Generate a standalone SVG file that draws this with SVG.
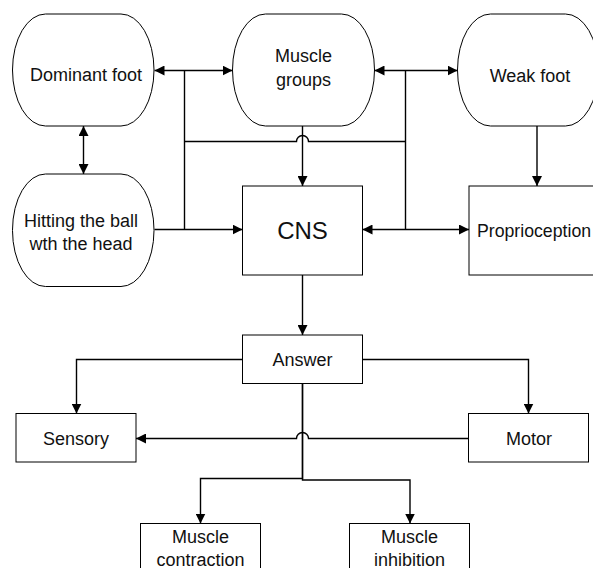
<svg xmlns="http://www.w3.org/2000/svg" width="593" height="568" viewBox="0 0 593 568">
  <style>
    .shape { fill: #ffffff; stroke: #000000; stroke-width: 1; }
    .conn { fill: none; stroke: #000000; stroke-width: 1.4; }
    .arr { marker-end: url(#ah); }
    .arr2 { marker-start: url(#ah); marker-end: url(#ah); }
    text { font-family: "Liberation Sans", Arial, sans-serif; font-size: 18px; fill: #111111; text-anchor: middle; }
    .big { font-size: 24px; }
  </style>
  <defs>
    <marker id="ah" viewBox="0 0 10 10" refX="10" refY="5" markerWidth="10" markerHeight="10" markerUnits="userSpaceOnUse" orient="auto-start-reverse">
      <path d="M0,0 L10,5 L0,10 z" fill="#000000"/>
    </marker>
  </defs>
  <rect width="593" height="568" fill="#ffffff"/>

  <g id="connectors">
    <path class="conn arr2" d="M154.5,70.5 H232.5"/>
    <path class="conn" d="M184.5,70.5 V229.5"/>
    <path class="conn" d="M184.5,141.5 H296.5 A6,6 0 0 1 308.5,141.5 H405.5"/>
    <path class="conn arr" d="M154.5,229.5 H242.5"/>
    <path class="conn arr" d="M302.5,126 V186"/>
    <path class="conn arr2" d="M374.5,70.5 H457.5"/>
    <path class="conn" d="M405.5,70.5 V229.5"/>
    <path class="conn arr2" d="M362.5,229.5 H469"/>
    <path class="conn arr" d="M537,126 V186"/>
    <path class="conn arr2" d="M83.5,126 V174"/>
    <path class="conn arr" d="M302.5,275 V335"/>
    <path class="conn arr" d="M242.5,359.5 H76.5 V413.5"/>
    <path class="conn arr" d="M362.5,359.5 H528.5 V413.5"/>
    <path class="conn arr" d="M468.5,438.5 H308.5 A6,6 0 0 0 296.5,438.5 H136"/>
    <path class="conn arr" d="M302.5,383.5 V478.5 H200.5 V523.5"/>
    <path class="conn arr" d="M302.5,383.5 V480 H410 V523.5"/>
  </g>

  <g id="dominant-foot">
    <rect class="shape" x="12.5" y="14" width="141.5" height="112" rx="33" ry="56"/>
    <text x="86" y="80.5">Dominant foot</text>
  </g>
  <g id="muscle-groups">
    <rect class="shape" x="232.5" y="14" width="142" height="112" rx="33" ry="56"/>
    <text x="303.5" y="62">Muscle</text>
    <text x="303.5" y="85.5">groups</text>
  </g>
  <g id="weak-foot">
    <rect class="shape" x="457.5" y="14" width="141" height="112" rx="33" ry="56"/>
    <text x="530" y="81.5">Weak foot</text>
  </g>
  <g id="hitting-ball">
    <rect class="shape" x="12.5" y="174" width="141.5" height="112.5" rx="33" ry="56"/>
    <text x="81" y="226.5">Hitting the ball</text>
    <text x="81" y="250">wth the head</text>
  </g>
  <g id="cns">
    <rect class="shape" x="242.5" y="186" width="120" height="89"/>
    <text class="big" x="302.5" y="239">CNS</text>
  </g>
  <g id="proprioception">
    <rect class="shape" x="469" y="186" width="136" height="89"/>
    <text x="477" y="236.5" style="text-anchor:start;font-size:17.7px">Proprioception</text>
  </g>
  <g id="answer">
    <rect class="shape" x="242.5" y="335" width="120" height="48.5"/>
    <text x="302.5" y="366">Answer</text>
  </g>
  <g id="sensory">
    <rect class="shape" x="16" y="413.5" width="120" height="48.5"/>
    <text x="76" y="444.5">Sensory</text>
  </g>
  <g id="motor">
    <rect class="shape" x="468.5" y="413.5" width="120" height="48.5"/>
    <text x="529" y="444.5">Motor</text>
  </g>
  <g id="muscle-contraction">
    <rect class="shape" x="140.5" y="523.5" width="120" height="60"/>
    <text x="200.5" y="543">Muscle</text>
    <text x="200.5" y="565.5">contraction</text>
  </g>
  <g id="muscle-inhibition">
    <rect class="shape" x="349.5" y="523.5" width="120" height="60"/>
    <text x="409.5" y="543">Muscle</text>
    <text x="409.5" y="565.5">inhibition</text>
  </g>
</svg>
